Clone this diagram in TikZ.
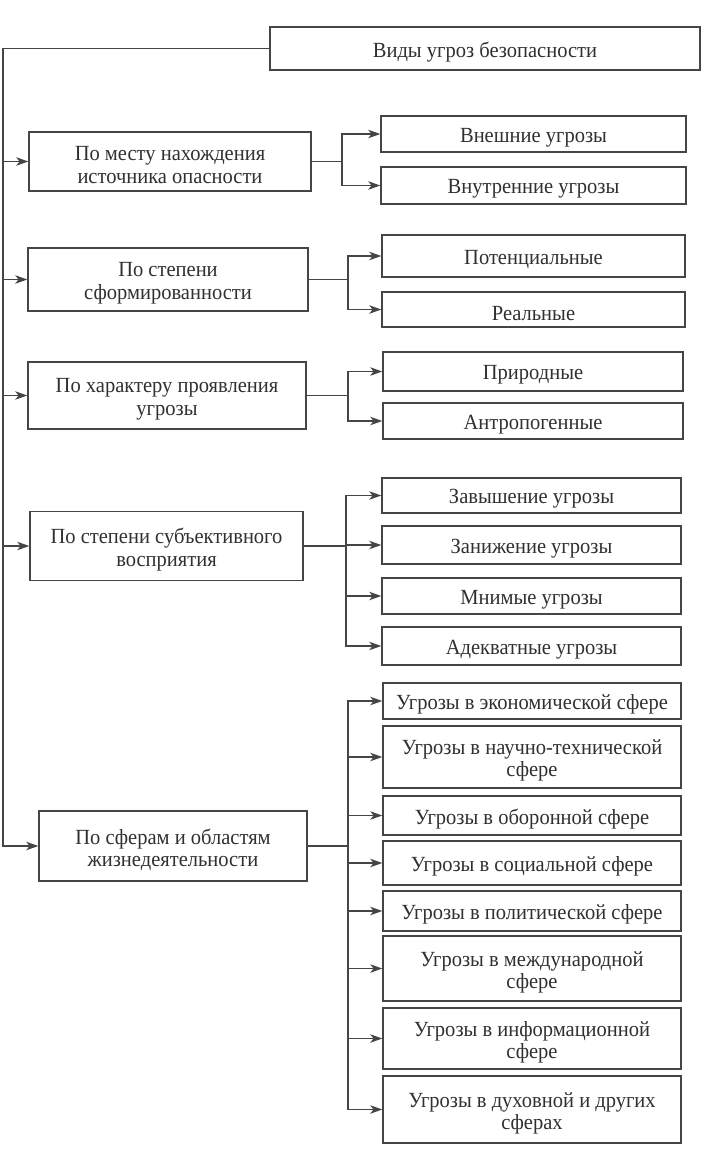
\documentclass[tikz,border=0pt]{standalone}
\usepackage{fontspec}
\setmainfont{Liberation Serif}[FakeStretch=0.95]
\usetikzlibrary{arrows.meta}
\definecolor{ink}{HTML}{303030}
\definecolor{rule}{HTML}{454545}

\begin{document}
\begin{tikzpicture}[
	x=0.5pt, y=-0.5pt,
	box/.style={rectangle, draw=rule, line width=0.7pt, inner sep=0pt},
	txt/.style={align=center, text=ink, inner sep=0pt, yshift=-1.8pt,
		font=\fontsize{10.8}{11.2}\selectfont},
	link/.style={draw=rule, line width=0.6pt},
	arr/.style={link, -{Stealth[length=6pt, width=4.2pt, inset=1.6pt]}},
	]
	\useasboundingbox (0,0) rectangle (716,1156);
	\node[box, minimum width=215pt, minimum height=21.5pt, label={[txt]center:Виды угроз безопасности}] (root) at (485,48.5) {};

	\node[box, minimum width=141pt, minimum height=29.5pt, label={[txt]center:По месту нахождения\\источника опасности}] (mesto) at (170,161.5) {};
	\node[box, minimum width=140pt, minimum height=31.5pt, label={[txt]center:По степени\\сформированности}] (stepen) at (168,279.5) {};
	\node[box, minimum width=139pt, minimum height=33.5pt, label={[txt]center:По характеру проявления\\угрозы}] (harakter) at (167,395.5) {};
	\node[box, minimum width=136.5pt, minimum height=34.5pt, label={[txt]center:По степени субъективного\\восприятия}] (vospr) at (166.5,546) {};
	\node[box, minimum width=134pt, minimum height=35pt, label={[txt]center:По сферам и областям\\жизнедеятельности}] (sfery) at (173,846) {};

	\node[box, minimum width=152.5pt, minimum height=18pt, label={[txt]center:Внешние угрозы}] (vnesh) at (533.5,134) {};
	\node[box, minimum width=152.5pt, minimum height=18.5pt, label={[txt]center:Внутренние угрозы}] (vnutr) at (533.5,185.5) {};
	\node[box, minimum width=151.5pt, minimum height=21pt, label={[txt]center:Потенциальные}] (potenc) at (533.5,256) {};
	\node[box, minimum width=151.5pt, minimum height=17.5pt, label={[txt]center:Реальные}] (realn) at (533.5,309.5) {};
	\node[box, minimum width=150pt, minimum height=19.5pt, label={[txt]center:Природные}] (prirod) at (533,371.5) {};
	\node[box, minimum width=150pt, minimum height=18pt, label={[txt]center:Антропогенные}] (antrop) at (533,421) {};

	\node[box, minimum width=149.5pt, minimum height=17.5pt, label={[txt]center:Завышение угрозы}] (zavysh) at (531.5,495.5) {};
	\node[box, minimum width=149.5pt, minimum height=19pt, label={[txt]center:Занижение угрозы}] (zanizh) at (531.5,545) {};
	\node[box, minimum width=149.5pt, minimum height=18pt, label={[txt]center:Мнимые угрозы}] (mnim) at (531.5,596) {};
	\node[box, minimum width=149.5pt, minimum height=19pt, label={[txt]center:Адекватные угрозы}] (adekv) at (531.5,646) {};

	\node[box, minimum width=149pt, minimum height=18pt, label={[txt]center:Угрозы в экономической сфере}] (econ) at (532,701) {};
	\node[box, minimum width=149pt, minimum height=31pt, label={[txt]center:Угрозы в научно-технической\\сфере}] (nauch) at (532,757) {};
	\node[box, minimum width=149pt, minimum height=19.5pt, label={[txt]center:Угрозы в оборонной сфере}] (oboron) at (532,815.5) {};
	\node[box, minimum width=149pt, minimum height=22pt, label={[txt]center:Угрозы в социальной сфере}] (social) at (532,863) {};
	\node[box, minimum width=149pt, minimum height=20pt, label={[txt]center:Угрозы в политической сфере}] (polit) at (532,911) {};
	\node[box, minimum width=149pt, minimum height=32.5pt, label={[txt]center:Угрозы в международной\\сфере}] (mezhd) at (532,968.5) {};
	\node[box, minimum width=149pt, minimum height=30.5pt, label={[txt]center:Угрозы в информационной\\сфере}] (inform) at (532,1038.5) {};
	\node[box, minimum width=149pt, minimum height=33.5pt, label={[txt]center:Угрозы в духовной и других\\сферах}] (duhov) at (532,1109.5) {};

	\coordinate (trunk) at (3,48.5);
	\coordinate (b1) at (342,0);
	\coordinate (b2) at (348,0);
	\coordinate (b3) at (348,0);
	\coordinate (b4) at (346,0);
	\coordinate (b5) at (348,0);

	\draw[link] (root.west) -- (trunk);
	\draw[arr] (trunk) |- (sfery.west);
	\foreach \c in {mesto,stepen,harakter,vospr}
		\draw[arr] (trunk |- \c.west) -- (\c.west);

	\draw[link] (mesto.east) -- (mesto.east -| b1);
	\foreach \r in {vnesh,vnutr}
		\draw[arr] (mesto.east -| b1) |- (\r.west);
	\draw[link] (stepen.east) -- (stepen.east -| b2);
	\foreach \r in {potenc,realn}
		\draw[arr] (stepen.east -| b2) |- (\r.west);
	\draw[link] (harakter.east) -- (harakter.east -| b3);
	\foreach \r in {prirod,antrop}
		\draw[arr] (harakter.east -| b3) |- (\r.west);
	\draw[link] (vospr.east) -- (vospr.east -| b4);
	\foreach \r in {zavysh,zanizh,mnim,adekv}
		\draw[arr] (vospr.east -| b4) |- (\r.west);
	\draw[link] (sfery.east) -- (sfery.east -| b5);
	\foreach \r in {econ,nauch,oboron,social,polit,mezhd,inform,duhov}
		\draw[arr] (sfery.east -| b5) |- (\r.west);
\end{tikzpicture}
\end{document}
